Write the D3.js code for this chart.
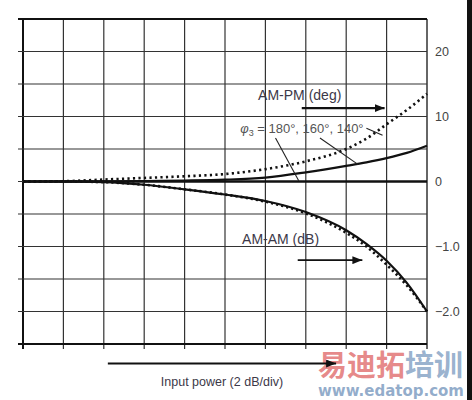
<!DOCTYPE html>
<html>
<head>
<meta charset="utf-8">
<script src="https://cdn.jsdelivr.net/npm/d3@7"></script>
<style>
  body { margin: 0; background: #fff; }
  svg { display: block; font-family: "Liberation Sans", Arial, sans-serif; }
</style>
</head>
<body>
<svg></svg>
<script>
// input power, dB (2 dB per division)
var inputDb = [0, 2, 4, 6, 8, 10, 12, 14, 16, 17, 18, 19, 20];
var gridDb = [0, 2, 4, 6, 8, 10, 12, 14, 16, 18, 20];

// AM-PM (deg) for phi3 = 180, 160, 140 deg
var pm180 = [0, 0, 0, 0, 0, 0, 0, 0, 0, 0, 0, 0, 0];
var pm160 = [0, 0, 0.02, 0.08, 0.15, 0.28, 0.6, 1.4, 2.4, 2.95, 3.6, 4.4, 5.5];
var pm140 = [0, 0.05, 0.3, 0.55, 0.8, 1.15, 1.9, 3.1, 5.0, 6.6, 8.8, 11.0, 13.5];

// AM-AM (dB)
var amSolid = [0, 0, -0.01, -0.05, -0.12, -0.2, -0.3, -0.47, -0.75, -0.96, -1.22, -1.56, -2.0];
var amDotted = [0, 0, -0.01, -0.05, -0.12, -0.2, -0.31, -0.49, -0.79, -1.0, -1.28, -1.6, -2.0];

// grid rows and right hand labels
var degGrid = [0, 5, 10, 15, 20, 25];
var dbGrid = [-0.5, -1.0, -1.5, -2.0, -2.5];
var degLabels = [20, 10, 0];
var dbLabels = [-1.0, -2.0];

function drawChart() {
  var W = 472, H = 400;
  var left = 23, right = 427, top = 19, zeroY = 181.5, bottom = 344;

  var svg = d3.select("svg").attr("width", W).attr("height", H);

  var x = d3.scaleLinear().domain([0, 20]).range([left, right]);
  var yDeg = d3.scaleLinear().domain([0, 25]).range([zeroY, top]);
  var yDb = d3.scaleLinear().domain([-2.5, 0]).range([bottom, zeroY]);

  var defs = svg.append("defs");
  defs.append("marker")
      .attr("id", "head")
      .attr("viewBox", "0 0 10 8")
      .attr("refX", 10).attr("refY", 4)
      .attr("markerWidth", 10).attr("markerHeight", 8)
      .attr("markerUnits", "userSpaceOnUse")
      .attr("orient", "auto")
    .append("path")
      .attr("d", "M0,0 L10,4 L0,8 Z")
      .attr("fill", "#111");

  // site watermark (under the marks)
  var wm = svg.append("g").attr("font-weight", "bold");
  wm.append("text").attr("x", 318).attr("y", 376).attr("font-size", "29px")
      .attr("font-family", "'Noto Sans CJK SC', sans-serif")
    .selectAll("tspan").data([["\u6613\u8FEA\u62D3", "#e06a6a"], ["\u57F9\u8BAD", "#7f9ec2"]]).enter()
    .append("tspan").attr("fill", function(d) { return d[1]; }).attr("fill-opacity", 0.8)
      .text(function(d) { return d[0]; });
  wm.append("text").attr("x", 318).attr("y", 396).attr("font-size", "15px")
      .attr("textLength", 146).attr("lengthAdjust", "spacingAndGlyphs")
      .attr("fill", "#7f9ec2").attr("fill-opacity", 0.85)
      .attr("font-family", "'DejaVu Sans', sans-serif")
      .text("www.edatop.com");

  var grid = svg.append("g").attr("stroke", "#333").attr("stroke-width", 1.2);

  // vertical grid + bottom ticks
  grid.selectAll(".v").data(gridDb).enter().append("line")
      .attr("x1", function(d) { return x(d); })
      .attr("x2", function(d) { return x(d); })
      .attr("y1", top).attr("y2", bottom + 5)
      .attr("stroke-width", function(d) { return d == 0 ? 2 : (d == 20 ? 1.5 : 1.2); })
      .attr("stroke", function(d) { return d == 0 ? "#111" : "#333"; });

  // horizontal grid + left ticks
  var rows = degGrid.map(function(d) { return yDeg(d); })
      .concat(dbGrid.map(function(d) { return yDb(d); }));
  grid.selectAll(".h").data(rows).enter().append("line")
      .attr("x1", left - 5).attr("x2", right)
      .attr("y1", function(d) { return d; })
      .attr("y2", function(d) { return d; })
      .attr("stroke-width", function(d) { return (d == top || d == bottom) ? 2.2 : 1.2; })
      .attr("stroke", function(d) { return (d == top || d == bottom) ? "#111" : "#333"; });

  // right hand labels
  var lab = svg.append("g")
      .attr("fill", "#444")
      .attr("font-size", "12.5px");
  lab.selectAll(".dl").data(degLabels).enter().append("text")
      .attr("x", right + 8)
      .attr("y", function(d) { return yDeg(d); })
      .attr("dy", "0.36em")
      .text(function(d) { return d; });
  lab.selectAll(".bl").data(dbLabels).enter().append("text")
      .attr("x", right + 8)
      .attr("y", function(d) { return yDb(d); })
      .attr("dy", "0.36em")
      .text(function(d) { return d3.format(".1f")(d).replace("-", "\u2212"); });

  var linePm = function(vals) {
    return d3.line()
        .x(function(d, i) { return x(inputDb[i]); })
        .y(function(d) { return yDeg(d); })
        .curve(d3.curveMonotoneX)(vals);
  };
  var lineAm = function(vals) {
    return d3.line()
        .x(function(d, i) { return x(inputDb[i]); })
        .y(function(d) { return yDb(d); })
        .curve(d3.curveMonotoneX)(vals);
  };

  var curves = svg.append("g").attr("fill", "none").attr("stroke", "#111");
  curves.append("path").attr("d", linePm(pm180)).attr("stroke-width", 2.4);
  curves.append("path").attr("d", linePm(pm160)).attr("stroke-width", 2.2);
  curves.append("path").attr("d", linePm(pm140)).attr("stroke-width", 2.6)
      .attr("stroke-dasharray", "2.2,3.3");
  curves.append("path").attr("d", lineAm(amDotted)).attr("stroke-width", 2.6)
      .attr("stroke-dasharray", "2.2,3");
  curves.append("path").attr("d", lineAm(amSolid)).attr("stroke-width", 2.2);

  // annotation leaders for phi3 text
  var leaders = [
    [[12.5, 6.7], [13.65, 0.1]],
    [[14.7, 6.7], [16.6, 2.6]],
    [[17.0, 8.2], [17.8, 7.1]]
  ];
  svg.append("g").attr("stroke", "#222").attr("stroke-width", 1.1)
    .selectAll("line").data(leaders).enter().append("line")
      .attr("x1", function(d) { return x(d[0][0]); })
      .attr("y1", function(d) { return yDeg(d[0][1]); })
      .attr("x2", function(d) { return x(d[1][0]); })
      .attr("y2", function(d) { return yDeg(d[1][1]); });

  // arrows
  var arrows = svg.append("g").attr("stroke", "#111").attr("stroke-width", 2.2);
  arrows.append("line")
      .attr("x1", x(13.8)).attr("x2", x(17.9))
      .attr("y1", yDeg(11.3)).attr("y2", yDeg(11.3))
      .attr("marker-end", "url(#head)");
  arrows.append("line")
      .attr("x1", x(13.6)).attr("x2", x(16.8))
      .attr("y1", yDb(-1.21)).attr("y2", yDb(-1.21))
      .attr("stroke-width", 1.8)
      .attr("marker-end", "url(#head)");
  arrows.append("line")
      .attr("x1", x(4.2)).attr("x2", x(15.5))
      .attr("y1", yDb(-2.8)).attr("y2", yDb(-2.8))
      .attr("marker-end", "url(#head)");

  // texts
  var txt = svg.append("g").attr("fill", "#3c3848");
  txt.append("text")
      .attr("x", x(13.7)).attr("y", yDeg(12.6))
      .attr("text-anchor", "middle").attr("font-size", "14px")
      .text("AM-PM (deg)");
  txt.append("text")
      .attr("x", x(12.75)).attr("y", yDb(-0.96))
      .attr("text-anchor", "middle").attr("font-size", "14px")
      .text("AM-AM (dB)");
  txt.append("text")
      .attr("x", x(9.85)).attr("y", yDb(-3.15))
      .attr("text-anchor", "middle").attr("font-size", "12.5px")
      .text("Input power (2 dB/div)");
  var phi = txt.append("text")
      .attr("x", x(10.75)).attr("y", yDeg(7.4))
      .attr("font-size", "13px").attr("fill", "#555");
  phi.append("tspan").attr("font-style", "italic").text("\u03C6");
  phi.append("tspan").attr("font-size", "9px").attr("dy", "3").text("3");
  phi.append("tspan").attr("dy", "-3").text(" = 180\u00B0, 160\u00B0, 140\u00B0");

  // scan edge on the right
  svg.append("rect").attr("x", 467).attr("y", 0).attr("width", 5).attr("height", H).attr("fill", "#111");
}

drawChart();
</script>
</body>
</html>
